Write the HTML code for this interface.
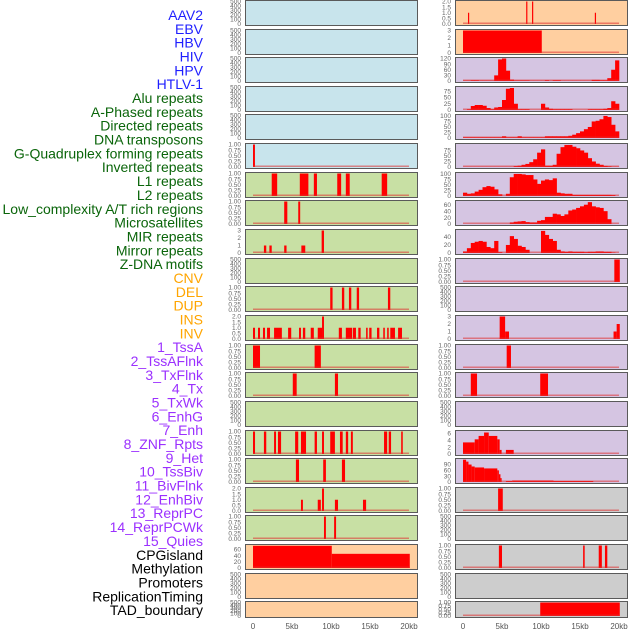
<!DOCTYPE html>
<html><head><meta charset="utf-8"><style>
html,body{margin:0;padding:0;background:#fff;}
svg{display:block;font-family:"Liberation Sans",sans-serif;}
</style></head><body>
<svg id="chart" width="630" height="630" viewBox="0 0 630 630" xmlns="http://www.w3.org/2000/svg"></svg>
<script>
// ---- data ----
const trackLabels = ["AAV2","EBV","HBV","HIV","HPV","HTLV-1","Alu repeats","A-Phased repeats","Directed repeats","DNA transposons","G-Quadruplex forming repeats","Inverted repeats","L1 repeats","L2 repeats","Low_complexity A/T rich regions","Microsatellites","MIR repeats","Mirror repeats","Z-DNA motifs","CNV","DEL","DUP","INS","INV","1_TssA","2_TssAFlnk","3_TxFlnk","4_Tx","5_TxWk","6_EnhG","7_Enh","8_ZNF_Rpts","9_Het","10_TssBiv","11_BivFlnk","12_EnhBiv","13_ReprPC","14_ReprPCWk","15_Quies","CPGisland","Methylation","Promoters","ReplicationTiming","TAD_boundary"];
const labelGroups = [6,13,5,15,5];
const xTicks = [0,5,10,15,20];
const xTickLabels = ["0","5kb","10kb","15kb","20kb"];
const ticks500 = [0,100,200,300,400,500];
const ticks1 = [0,0.25,0.5,0.75,1];
const ticks2 = [0,0.5,1,1.5,2];
const ticks3 = [0,1,2,3];
// bars: [startKb, endKb, value]
const L06_bars = [[0,0.25,1]];
const L07_bars = [[2.4,3.1,1],[6.0,7.1,1],[7.8,8.2,1],[10.8,11.3,1],[11.9,12.4,1],[16.5,17.2,1]];
const L08_bars = [[4.0,4.4,1],[5.8,6.05,1]];
const L09_bars = [[1.4,1.7,1],[2.1,2.4,1],[4.0,4.3,1],[6.2,6.7,1],[8.8,9.1,3]];
const L11_bars = [[9.9,10.2,1],[11.4,11.7,1],[12.3,12.6,1],[13.3,13.6,1],[17.3,17.6,1]];
const L12_bars = [[0,0.26,1],[0.64,0.9,1],[1.28,1.54,1],[1.8,2.18,1],[2.7,3.7,1],[4.5,4.9,1],[5.9,6.15,1],[6.4,6.7,1],[7.4,7.8,1],[8.3,8.85,1],[8.85,9.1,2],[11.0,11.4,1],[11.9,12.7,1],[12.8,13.2,1],[13.5,13.8,1],[14.5,14.7,1],[14.9,15.2,1],[15.9,16.2,1],[16.7,16.9,1],[17.2,17.4,1],[17.6,18.2,1],[18.6,19.1,1]];
const L13_bars = [[0,0.9,1],[7.9,8.7,1]];
const L14_bars = [[5.1,5.6,1],[10.5,10.9,1]];
const L16_bars = [[0,0.26,1],[1.4,1.7,1],[2.7,2.95,1],[3.2,3.6,1],[5.4,5.8,1],[6.15,6.8,1],[7.9,8.2,1],[8.85,9.1,1],[9.9,10.5,1],[11.15,11.5,1],[11.9,12.2,1],[12.55,12.8,1],[16.8,17.2,1],[17.4,17.7,1],[19.0,19.2,1]];
const L17_bars = [[5.5,5.9,1],[9.0,9.35,1],[11.4,11.8,1]];
const L18_bars = [[6.15,6.4,1],[8.3,8.7,1],[8.85,9.1,2],[10.5,10.9,1],[14.1,14.5,1]];
const L19_bars = [[9.1,9.35,1],[10.4,10.65,1]];
const L20_bars = [[0,10.1,72],[10.1,20.1,46]];
const R01_bars = [[0.64,0.77,1],[8.1,8.2,2],[8.85,9.0,2],[16.9,17.05,1]];
const R02_bars = [[0,10.1,3]];
const R10_bars = [[19.4,20.1,1]];
const R12_bars = [[4.7,5.4,3],[5.4,5.9,1],[19.3,19.7,1],[19.7,20.1,2]];
const R13_bars = [[5.6,6.15,1]];
const R14_bars = [[1.0,1.8,1],[9.9,10.9,1]];
const R16_bars = [[0,1.5,3.4],[1.5,2.0,4.3],[2.0,2.7,5.3],[2.7,3.3,6.3],[3.3,4.4,5.3],[4.4,4.7,4.3],[4.7,4.95,1.2],[5.5,6.5,1.2]];
const R17_bars = [[0,0.4,115],[0.4,0.7,105],[0.7,1.1,90],[1.1,1.5,80],[1.5,2.7,75],[2.7,4.4,70],[4.4,4.6,60],[4.6,4.8,40],[4.8,4.95,20],[5.5,6.3,5],[6.3,11.6,8],[11.6,16.7,5]];
const R18_bars = [[4.5,5.1,1]];
const R20_bars = [[4.6,5.0,1],[15.4,15.6,1],[17.4,17.8,1],[18.2,18.5,1]];
const R22_bars = [[9.9,20.1,1]];
// histograms: 40 bins of 0.5 kb
const R03_hist = [2,2,4,4,2,2,2,2,30,115,120,55,8,3,3,3,3,1,1,1,1,4,1,4,4,1,1,1,1,1,1,1,1,6,6,4,4,15,60,110];
const R04_hist = [0,3,16,20,20,17,8,3,10,12,40,85,88,25,3,3,3,0,0,0,25,10,5,3,3,3,3,3,0,0,0,0,3,3,3,3,5,8,35,25];
const R05_hist = [3,3,3,3,3,3,3,3,3,3,8,3,3,3,8,3,3,3,3,3,3,8,8,8,8,8,8,10,15,22,30,40,50,75,78,85,100,95,60,30];
const R06_hist = [0.5,0.5,0.5,0.5,0.5,0.5,0.5,0.5,0.5,0.5,0.5,0.5,0.5,4,6,10,14,22,35,65,80,6,6,10,60,90,100,100,92,85,75,65,40,25,15,10,5,3,1,1];
const R07_hist = [15,10,12,20,28,40,45,42,30,8,0,10,85,100,100,98,95,95,75,55,70,75,72,80,15,12,10,10,5,5,5,5,5,5,5,5,5,5,4,0];
const R08_hist = [0,0,0,0,0,0,0,0,0,0,0,0,5,7,8,9,6,5,5,10,12,22,22,32,30,25,30,42,45,50,55,60,68,55,52,50,40,15,0,0];
const R09_hist = [4,12,25,28,30,28,15,12,30,2,0,20,42,35,18,15,8,0,0,0,55,45,35,30,8,4,3,4,3,3,3,2,3,3,4,4,3,3,1,0];

// ---- layout ----
const svg = document.getElementById('chart');
const NS = 'http://www.w3.org/2000/svg';
const tops = [0,29,57,86,114,143,172,200,229,258,286,315,344,372,401,430,458,487,515,544,573,601];
const colLeft = [245,455];
const colWidth = 172;
const colors = {blue:'#c8e4ec',green:'#c8e0a4',orange:'#ffcfa0',purple:'#d5c5e2',gray:'#cdcdcd'};
function xScale(col, kb){ return (col===0?253:463) + kb*7.8; }
function mk(tag, attrs){ const e=document.createElementNS(NS,tag); for(const k in attrs) e.setAttribute(k,attrs[k]); return e; }

const panels = [
 // left column
 {c:0,r:0,bg:'blue',t:ticks500,max:500},
 {c:0,r:1,bg:'blue',t:ticks500,max:500},
 {c:0,r:2,bg:'blue',t:ticks500,max:500},
 {c:0,r:3,bg:'blue',t:ticks500,max:500},
 {c:0,r:4,bg:'blue',t:ticks500,max:500},
 {c:0,r:5,bg:'blue',t:ticks1,max:1,bars:L06_bars},
 {c:0,r:6,bg:'green',t:ticks1,max:1,bars:L07_bars},
 {c:0,r:7,bg:'green',t:ticks1,max:1,bars:L08_bars},
 {c:0,r:8,bg:'green',t:ticks3,max:3,bars:L09_bars},
 {c:0,r:9,bg:'green',t:ticks500,max:500},
 {c:0,r:10,bg:'green',t:ticks1,max:1,bars:L11_bars},
 {c:0,r:11,bg:'green',t:ticks2,max:2,bars:L12_bars},
 {c:0,r:12,bg:'green',t:ticks1,max:1,bars:L13_bars},
 {c:0,r:13,bg:'green',t:ticks1,max:1,bars:L14_bars},
 {c:0,r:14,bg:'green',t:ticks500,max:500},
 {c:0,r:15,bg:'green',t:ticks1,max:1,bars:L16_bars},
 {c:0,r:16,bg:'green',t:ticks1,max:1,bars:L17_bars},
 {c:0,r:17,bg:'green',t:ticks2,max:2,bars:L18_bars},
 {c:0,r:18,bg:'green',t:ticks1,max:1,bars:L19_bars},
 {c:0,r:19,bg:'orange',t:[0,20,40,60],max:73,bars:L20_bars},
 {c:0,r:20,bg:'orange',t:ticks500,max:500},
 {c:0,r:21,bg:'orange',t:ticks500,max:500},
 // right column
 {c:1,r:0,bg:'orange',t:ticks2,max:2,bars:R01_bars},
 {c:1,r:1,bg:'orange',t:ticks3,max:3,bars:R02_bars},
 {c:1,r:2,bg:'purple',t:[0,30,60,90,120],max:120,hist:R03_hist},
 {c:1,r:3,bg:'purple',t:[0,25,50,75],max:90,hist:R04_hist},
 {c:1,r:4,bg:'purple',t:[0,25,50,75,100],max:102,hist:R05_hist},
 {c:1,r:5,bg:'purple',t:[0,25,50,75],max:102,hist:R06_hist},
 {c:1,r:6,bg:'purple',t:[0,25,50,75,100],max:102,hist:R07_hist},
 {c:1,r:7,bg:'purple',t:[0,20,40,60],max:70,hist:R08_hist},
 {c:1,r:8,bg:'purple',t:[0,20,40],max:56,hist:R09_hist},
 {c:1,r:9,bg:'purple',t:ticks1,max:1,bars:R10_bars},
 {c:1,r:10,bg:'purple',t:ticks500,max:500},
 {c:1,r:11,bg:'purple',t:ticks3,max:3,bars:R12_bars},
 {c:1,r:12,bg:'purple',t:ticks1,max:1,bars:R13_bars},
 {c:1,r:13,bg:'purple',t:ticks1,max:1,bars:R14_bars},
 {c:1,r:14,bg:'purple',t:ticks500,max:500},
 {c:1,r:15,bg:'purple',t:[0,2,4,6],max:6.6,bars:R16_bars},
 {c:1,r:16,bg:'purple',t:[0,30,60,90],max:116,bars:R17_bars},
 {c:1,r:17,bg:'gray',t:ticks1,max:1,bars:R18_bars},
 {c:1,r:18,bg:'gray',t:ticks500,max:500},
 {c:1,r:19,bg:'gray',t:ticks1,max:1,bars:R20_bars},
 {c:1,r:20,bg:'gray',t:ticks500,max:500},
 {c:1,r:21,bg:'gray',t:ticks1,max:1,bars:R22_bars}
];

function fmt(v, ticks){
  const dec = ticks.some(t=>Math.round(t*100)%100!==0 && t<10) ? (ticks.some(t=>Math.round(t*100)%50!==0)?2:1) : 0;
  return v.toFixed(dec);
}

panels.forEach((p,i)=>{
  const top = tops[p.r];
  const h = p.r===21 ? 16 : 25;
  const x0 = colLeft[p.c];
  const g = mk('g',{});
  
  
  svg.appendChild(g);
  const bg = mk('rect',{x:x0+0.5,y:top+0.5,width:colWidth,height:h,fill:colors[p.bg],stroke:'#5a5a5a','stroke-width':1});
  
  
  g.appendChild(bg);
  const yb = top + h - 1;
  const yt = top + 1.5;
  const yScale = v => yb - (v/p.max)*(yb-yt);
  // ticks
  p.t.forEach(tv=>{
    const tx = mk('text',{x:x0-4,y:yScale(tv)+2.2,'font-size':6.5,fill:'#666','text-anchor':'end'});
    tx.textContent = fmt(tv,p.t);
    
    
    g.appendChild(tx);
  });
  const hasData = p.bars || p.hist;
  if(p.bars){
    p.bars.forEach(b=>{
      const r = mk('rect',{x:xScale(p.c,b[0]),y:yScale(b[2]),width:Math.max(1.2,xScale(p.c,b[1])-xScale(p.c,b[0])),height:yb-yScale(b[2]),fill:'#ff0000'});
      
      
      g.appendChild(r);
    });
  }
  if(p.hist){
    p.hist.forEach((v,k)=>{
      const xa = xScale(p.c,k*0.5), xb2 = xScale(p.c,(k+1)*0.5);
      const r = mk('rect',{x:xa,y:yScale(v),width:xb2-xa+0.3,height:yb-yScale(v),fill:'#ff0000'});
      
      
      g.appendChild(r);
    });
  }
  if(hasData){
    const bl = mk('rect',{x:xScale(p.c,0),y:yb-1.5,width:xScale(p.c,20)-xScale(p.c,0),height:1.5,fill:'#e03030','fill-opacity':0.55});
    
    
    g.appendChild(bl);
  }
});

// x-axis labels
[0,1].forEach(c=>{
  xTicks.forEach((kb,j)=>{
    const t = mk('text',{x:xScale(c,kb),y:629,'font-size':8,fill:'#555','text-anchor':'middle'});
    t.textContent = xTickLabels[j];
    
    
    svg.appendChild(t);
  });
});

// track labels
const groupColors = ['#1f1fff','#0a650a','#ffa500','#9b30ff','#000000'];
let idx=0;
labelGroups.forEach((n,gi)=>{
  for(let k=0;k<n;k++){
    const t = mk('text',{x:203,y:15+idx*13.84+5,'font-size':14,fill:groupColors[gi],'text-anchor':'end'});
    t.textContent = trackLabels[idx];
    
    
    svg.appendChild(t);
    idx++;
  }
});
</script>
</body></html>
